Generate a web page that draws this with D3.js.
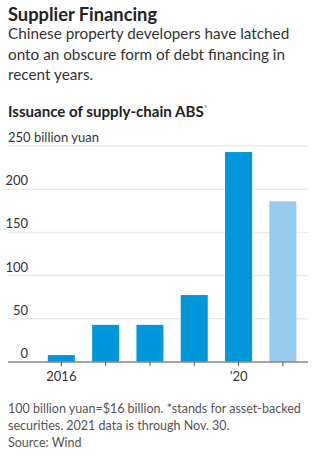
<!DOCTYPE html>
<html><head><meta charset="utf-8">
<script src="https://cdn.jsdelivr.net/npm/d3@7"></script>
<style>
body{margin:0;background:#fff;}
svg{display:block;font-family:Lato,"Noto Sans",sans-serif;}
</style></head>
<body>
<svg id="c" width="325" height="466"></svg>
<script>
const years = ["2016","2017","2018","2019","2020","2021"];
const values = [8, 43, 43, 77.5, 243, 186];
const yTicks = [0, 50, 100, 150, 200, 250];
const xTickLabels = {"2016":"2016","2020":"\u201920"};
const partialYear = "2021";

(function(){
const svg = d3.select("#c");
const left = 8, right = 308, bottom = 362, topY = 146;

svg.append("text").attr("x",8).attr("y",21).attr("font-size",18.3).attr("font-weight",700).attr("fill","#222").text("Supplier Financing");
const sub = ["Chinese property developers have latched","onto an obscure form of debt financing in","recent years."];
sub.forEach((s,i)=>svg.append("text").attr("x",8).attr("y",39+i*20.5).attr("font-size",15.3).attr("fill","#333").text(s));
const h = svg.append("text").attr("x",8).attr("y",117).attr("font-size",15.1).attr("font-weight",700).attr("fill","#222").text("Issuance of supply-chain ABS");
h.append("tspan").attr("font-size",9).attr("dy",-5).attr("font-weight",400).attr("fill","#888").text("*");

const y = d3.scaleLinear().domain([0,250]).range([bottom, topY]);
const x = d3.scaleBand().domain(years).range([39.2, 305]).paddingInner(0.39).paddingOuter(0.195);

const g = svg.append("g");
yTicks.filter(t=>t>0).forEach(t=>{
  g.append("line").attr("x1",left).attr("x2",right).attr("y1",y(t)).attr("y2",y(t)).attr("stroke","#ebebeb").attr("stroke-width",1.5);
});
yTicks.forEach(t=>{
  const tx = g.append("text").attr("x",28).attr("y",y(t)-4).attr("font-size",13).attr("fill","#333").attr("text-anchor", t===250?"start":"end");
  if(t===250){ tx.attr("x",8).text("250 billion yuan"); } else tx.text(t);
});

g.selectAll("rect").data(years).join("rect")
  .attr("x",d=>x(d)).attr("width",x.bandwidth())
  .attr("y",(d,i)=>y(values[i])).attr("height",(d,i)=>bottom-y(values[i]))
  .attr("fill",d=>d===partialYear?"#99cbee":"#0098db");

g.append("line").attr("x1",left).attr("x2",right).attr("y1",bottom).attr("y2",bottom).attr("stroke","#888").attr("stroke-width",1.5);
const xa = d3.axisBottom(x).tickSize(4).tickFormat(d=>xTickLabels[d]||"");
const ax = g.append("g").attr("transform",`translate(0,${bottom})`).call(xa);
ax.select(".domain").remove();
ax.selectAll(".tick line").attr("stroke","#555");
ax.selectAll(".tick text").attr("font-size",13).attr("fill","#333").attr("font-family","Lato,'Noto Sans',sans-serif").attr("dy","0").attr("y",19);

const foot = ["100 billion yuan=$16 billion. *stands for asset-backed","securities. 2021 data is through Nov. 30.","Source: Wind"];
foot.forEach((s,i)=>svg.append("text").attr("x",8).attr("y",413+i*17).attr("font-size",12.5).attr("fill","#555").text(s));
})();
</script>
</body></html>
